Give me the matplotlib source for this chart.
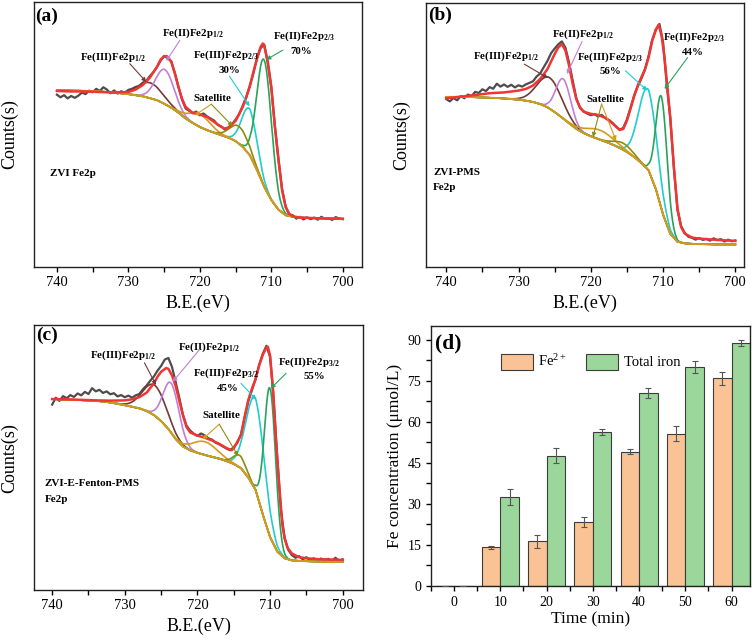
import numpy as np
import matplotlib.pyplot as plt
from matplotlib.ticker import MultipleLocator

plt.rcParams["font.family"] = ["Liberation Serif", "DejaVu Serif"]
plt.rcParams["mathtext.fontset"] = "custom"
plt.rcParams["mathtext.rm"] = "Liberation Serif"
plt.rcParams["mathtext.it"] = "Liberation Serif:italic"
plt.rcParams["mathtext.bf"] = "Liberation Serif:bold"

# ---------------- XPS Fe2p spectra (arbitrary counts) ----------------
E_RAW = np.linspace(740, 700, 81)   # raw spectrum, every 0.5 eV
E_BG = np.linspace(740, 700, 41)    # background, every 1 eV
E_FINE = np.linspace(740, 700, 801)

raw_a = [65.0, 64.0, 64.8, 63.6, 64.5, 63.8, 64.6, 65.8, 65.2, 66.5,
         65.9, 67.2, 66.4, 67.8, 66.9, 65.5, 66.6, 65.4, 66.3, 65.6,
         66.8, 67.2, 67.9, 68.2, 69.5, 70.2, 72.0, 73.5, 75.4, 77.8,
         79.6, 78.8, 77.6, 73.2, 68.0, 63.2, 59.8, 58.9, 58.0, 58.6,
         57.2, 57.9, 56.8, 56.0, 55.2, 53.6, 53.0, 51.8, 52.6, 53.8,
         55.6, 57.6, 60.8, 64.0, 68.5, 73.2, 78.9, 82.6, 83.9, 77.0,
         67.5, 53.0, 40.6, 29.5, 22.8, 19.6, 19.5, 18.2, 18.9, 17.9,
         18.7, 18.0, 18.6, 17.8, 18.9, 18.1, 18.4, 17.7, 18.8, 18.2,
         18.0]
raw_b = [63.5, 62.6, 63.9, 63.0, 64.6, 63.8, 65.2, 64.6, 66.2, 65.8,
         67.2, 66.5, 68.0, 67.4, 69.3, 68.2, 69.0, 68.1, 68.9, 67.9,
         68.7, 68.2, 69.0, 69.6, 70.2, 72.0, 73.2, 75.6, 77.9, 80.8,
         82.6, 84.2, 85.3, 82.9, 77.2, 70.5, 63.8, 60.2, 58.9, 58.0,
         57.4, 57.8, 56.9, 57.5, 56.3, 55.6, 54.5, 53.1, 51.9, 52.6,
         55.8, 60.1, 64.9, 68.3, 71.2, 74.6, 79.8, 85.9, 89.8, 91.9,
         85.2, 69.5, 56.2, 37.5, 21.5, 15.4, 12.9, 11.4, 11.0, 10.3,
         10.9, 10.2, 10.6, 9.9, 10.8, 10.1, 10.5, 9.6, 10.3, 9.7,
         10.0]
raw_c = [70.0, 72.6, 71.4, 73.2, 72.4, 73.6, 72.9, 74.2, 73.5, 74.8,
         74.0, 76.2, 75.0, 75.6, 74.4, 75.0, 73.9, 74.3, 73.1, 73.6,
         72.8, 73.4, 72.6, 73.5, 74.0, 75.8, 77.2, 79.0, 80.6, 82.8,
         84.6, 87.0, 87.6, 84.2, 78.5, 72.6, 66.2, 62.0, 60.2, 59.0,
         58.2, 59.1, 58.4, 57.3, 56.8, 55.6, 55.0, 54.2, 53.4, 52.8,
         53.9, 55.6, 58.8, 65.0, 71.2, 75.4, 79.6, 85.0, 89.2, 92.2,
         88.0, 72.0, 49.5, 30.0, 19.8, 15.2, 13.2, 12.2, 12.8, 11.6,
         12.4, 11.2, 12.0, 11.0, 11.9, 11.3, 11.8, 10.9, 12.2, 11.0,
         11.6]

bg_a = [66.7, 66.6, 66.5, 66.5, 66.4, 66.3, 66.2, 66.0, 65.8, 65.5,
        65.2, 64.8, 64.4, 63.7, 62.9, 61.6, 60.1, 58.2, 56.0, 54.3,
        52.8, 51.6, 50.6, 49.7, 48.8, 47.5, 45.3, 42.1, 36.5, 30.2,
        25.2, 21.6, 19.5, 18.9, 18.6, 18.5, 18.4, 18.3, 18.2, 18.2,
        18.1]
bg_b = [64.3, 64.3, 64.3, 64.3, 64.2, 64.1, 64.0, 63.9, 63.7, 63.5,
        63.3, 62.9, 62.4, 61.6, 60.4, 58.6, 56.5, 54.3, 52.2, 50.6,
        49.4, 48.4, 47.4, 46.3, 45.0, 43.5, 41.6, 39.3, 36.5, 29.5,
        19.8, 12.5, 9.5, 8.9, 8.7, 8.6, 8.6, 8.5, 8.5, 8.5,
        8.5]
bg_c = [72.1, 72.0, 71.9, 71.8, 71.7, 71.6, 71.4, 71.2, 70.8, 70.3,
        69.8, 69.2, 68.6, 67.6, 66.1, 63.8, 60.8, 57.0, 54.2, 52.7,
        51.8, 51.0, 50.3, 49.6, 48.7, 47.6, 46.0, 42.5, 37.8, 28.5,
        20.0, 14.5, 12.0, 11.2, 11.0, 10.9, 10.8, 10.8, 10.7, 10.7,
        10.7]

# fitted envelope (red line)
env_e_a = [740, 738, 736, 734, 732, 730, 729, 728, 727, 726, 725.5, 725, 724.6, 724,
           723.5, 723, 722.5, 722, 721, 720, 719, 718, 717, 716.5, 716, 715, 714,
           713.5, 713, 712.5, 712, 711.5, 711.2, 711, 710.5, 710, 709.5, 709, 708.5,
           708, 707.5, 707, 706, 704, 702, 700]
env_a = [66.4, 66.2, 66.2, 66.0, 65.8, 66.0, 66.9, 68.6, 71.4, 75.5, 78.2, 79.5, 79.5, 77.4,
         73.0, 67.9, 63.5, 60.4, 58.1, 57.5, 56.6, 54.7, 52.8, 52.2, 52.6, 55.1, 60.4,
         64.2, 68.2, 73.6, 78.6, 83.0, 84.3, 83.6, 77.4, 67.9, 52.8, 40.3, 28.9,
         22.6, 20.1, 19.1, 18.6, 18.4, 18.2, 18.2]
env_e_b = [740, 738, 736, 734, 732, 730, 729, 728, 727, 726, 725, 724.5, 724, 723.5,
           723, 722.5, 722, 721.5, 721, 720, 719, 718, 717, 716, 715.5, 715, 714,
           713.5, 713, 712.5, 712, 711.5, 711, 710.6, 710.2, 709.8, 709.4, 709, 708.5,
           708, 707.5, 707, 706, 705, 703, 700]
env_b = [63.8, 64.4, 65.0, 65.7, 66.0, 66.7, 67.3, 68.6, 71.1, 74.8, 80.5, 83.0, 84.3, 81.8,
         76.1, 69.2, 63.5, 60.4, 58.7, 57.9, 57.5, 56.4, 54.3, 51.8, 52.2, 55.3, 64.5,
         68.6, 71.7, 74.8, 79.2, 85.5, 89.6, 91.6, 87.4, 79.2, 67.9, 56.6, 37.7,
         22.0, 15.1, 12.6, 11.1, 10.7, 10.3, 9.8]
env_e_c = [740, 738, 736, 734, 732, 730, 729, 728, 727, 726, 725.5, 725, 724.3, 724,
           723.5, 723, 722.5, 722, 721.5, 721, 720, 719, 718, 717, 716, 715.3, 715,
           714.5, 714, 713.5, 713, 712.5, 712, 711.5, 711, 710.5, 710.3, 710, 709.6,
           709.2, 708.7, 708.3, 708, 707.6, 707, 706, 705, 703, 700]
env_c = [72.1, 72.0, 71.8, 71.6, 71.5, 71.6, 72.0, 72.8, 74.5, 78.0, 80.5, 82.4, 83.8, 83.5,
         81.0, 77.0, 71.5, 66.0, 61.5, 59.5, 58.3, 57.5, 56.5, 55.2, 53.6, 52.8, 53.5,
         56.0, 58.5, 65.5, 71.7, 76.0, 79.6, 84.8, 88.8, 91.6, 91.8, 88.5, 76.0,
         57.0, 38.0, 24.5, 19.5, 16.0, 13.8, 12.4, 12.0, 11.6, 11.4]

# fitted components: Fe(III)2p1/2, Fe(II)2p1/2, Fe(III)2p3/2, Fe(II)2p3/2, satellite, satellite
PEAK_COLORS = ["#723a36", "#c27fd6", "#22cccc", "#28a35a", "#d19c1d", "#8c8c12"]
center_a = [727.0, 724.9, 713.05, 711.0, 720.0, 714.5]
height_a = [5.8, 13.0, 17.4, 47.8, 4.8, 6.5]
fwhm_a = [4.0, 3.0, 2.5, 2.4, 3.5, 3.0]
center_b = [725.7, 723.8, 712.1, 710.2, 718.8, 715.5]
height_b = [11.7, 15.0, 30.5, 42.4, 3.6, 2.5]
fwhm_b = [4.0, 2.4, 3.0, 1.8, 4.5, 3.0]
center_c = [725.9, 723.6, 712.0, 710.0, 719.0, 714.2]
height_c = [11.5, 18.7, 34.5, 56.0, 5.0, 4.5]
fwhm_c = [3.8, 2.6, 3.0, 1.8, 4.0, 2.0]

RAW_COLOR = "#4d4d4d"
ENV_COLOR = "#f03535"
BG_COLOR = "#d19c1d"

# ---------------- (d) iron release ----------------
time_min = [0, 10, 20, 30, 40, 50, 60]
fe2 = [0, 14.1, 16.3, 23.4, 49.0, 55.7, 76.0]
fe2_err = [0, 0.6, 2.5, 2.0, 0.9, 2.7, 2.4]
fe_total = [0, 32.4, 47.7, 56.4, 70.5, 80.0, 89.0]
fe_total_err = [0, 2.9, 2.9, 1.1, 1.8, 2.2, 1.1]


def style_axes(ax):
    for s in ax.spines.values():
        s.set_linewidth(1.0)
        s.set_color("#222222")


def draw_xps(ax, raw, bg, env_e, env, centers, heights, widths, xlim):
    bg = np.asarray(bg)
    bg_f = np.interp(E_FINE[::-1], E_BG[::-1], bg[::-1])[::-1]
    ax.plot(E_RAW, raw, color=RAW_COLOR, lw=1.6)
    for c, h, w, col in zip(centers, heights, widths, PEAK_COLORS):
        comp = bg_f + h * np.exp(-4 * np.log(2) * (E_FINE - c) ** 2 / w ** 2)
        ax.plot(E_FINE, comp, color=col, lw=1.2)
    ax.plot(E_BG, bg, color=BG_COLOR, lw=1.4)
    ax.plot(env_e, env, color=ENV_COLOR, lw=1.8)

    ax.set_xlim(*xlim)
    ax.set_ylim(0, 100)
    ax.set_yticks([])
    ax.xaxis.set_major_locator(MultipleLocator(10))
    ax.xaxis.set_minor_locator(MultipleLocator(5))
    ax.tick_params(axis="x", which="both", direction="out", length=3.5, width=1.0,
                   labelsize=10.5, pad=3)
    ax.set_xlabel("B.E.(eV)", fontsize=13, labelpad=4)
    ax.set_ylabel("Counts(s)", fontsize=13, labelpad=11)
    style_axes(ax)


def note(ax, text, xy, size=7.8, ha="center"):
    ax.text(xy[0], xy[1], text, fontsize=size, fontweight="bold", ha=ha, va="center")


def arrow(ax, start, end, color):
    ax.annotate("", xy=end, xytext=start,
                arrowprops=dict(arrowstyle="-|>", color=color, lw=0.8,
                                mutation_scale=6, shrinkA=0, shrinkB=0))


fig = plt.figure(figsize=(7.56, 6.4), dpi=100)
ax_a = fig.add_axes([0.045, 0.583, 0.434, 0.414])
ax_b = fig.add_axes([0.5635, 0.583, 0.4206, 0.413])
ax_c = fig.add_axes([0.045, 0.078, 0.4352, 0.414])
ax_d = fig.add_axes([0.5701, 0.0844, 0.422, 0.406])

brown, violet, cyan, green, gold, olive = PEAK_COLORS

# ---- (a) ----
draw_xps(ax_a, raw_a, bg_a, env_e_a, env_a, center_a, height_a, fwhm_a, (743.2, 697.3))
ax_a.text(743.0, 94.6, "(a)", fontsize=14, fontweight="bold", va="center")
note(ax_a, r"Fe(III)Fe2p$_{\mathbf{1/2}}$", (732.1, 79.2))
arrow(ax_a, (729.8, 76.7), (727.5, 69.8), brown)
note(ax_a, r"Fe(II)Fe2p$_{\mathbf{1/2}}$", (721.0, 88.1))
arrow(ax_a, (722.8, 85.5), (724.7, 77.7), violet)
note(ax_a, r"Fe(III)Fe2p$_{\mathbf{2/3}}$", (716.3, 79.9))
note(ax_a, "30%", (715.9, 74.2))
arrow(ax_a, (715.85, 71.9), (713.05, 60.6), cyan)
note(ax_a, r"Fe(II)Fe2p$_{\mathbf{2/3}}$", (705.5, 87.0))
note(ax_a, "70%", (705.8, 81.1))
arrow(ax_a, (708.4, 81.8), (710.7, 78.2), green)
note(ax_a, "Satellite", (718.2, 63.5))
arrow(ax_a, (718.4, 61.4), (720.7, 57.2), gold)
arrow(ax_a, (718.4, 61.4), (715.4, 53.1), olive)
note(ax_a, "ZVI Fe2p", (740.9, 35.2), size=8, ha="left")

# ---- (b) ----
draw_xps(ax_b, raw_b, bg_b, env_e_b, env_b, center_b, height_b, fwhm_b, (742.8, 698.8))
ax_b.text(742.5, 95.0, "(b)", fontsize=14, fontweight="bold", va="center")
note(ax_b, r"Fe(III)Fe2p$_{\mathbf{1/2}}$", (731.8, 79.5))
arrow(ax_b, (729.2, 76.7), (725.9, 71.4), brown)
note(ax_b, r"Fe(II)Fe2p$_{\mathbf{1/2}}$", (721.1, 88.1))
arrow(ax_b, (721.2, 85.3), (723.3, 73.0), violet)
note(ax_b, r"Fe(III)Fe2p$_{\mathbf{2/3}}$", (717.3, 79.2))
note(ax_b, "56%", (717.3, 74.0))
arrow(ax_b, (715.2, 74.2), (712.2, 66.7), cyan)
note(ax_b, r"Fe(II)Fe2p$_{\mathbf{2/3}}$", (705.7, 86.8))
note(ax_b, "44%", (705.9, 81.1))
arrow(ax_b, (706.6, 79.2), (709.8, 67.3), green)
note(ax_b, "Satellite", (718.0, 63.5))
arrow(ax_b, (718.5, 61.6), (719.7, 49.1), olive)
arrow(ax_b, (718.5, 61.6), (716.5, 47.8), gold)
note(ax_b, "ZVI-PMS", (741.8, 35.8), size=8, ha="left")
note(ax_b, "Fe2p", (741.8, 30.2), size=8, ha="left")

# ---- (c) ----
draw_xps(ax_c, raw_c, bg_c, env_e_c, env_c, center_c, height_c, fwhm_c, (742.5, 697.2))
ax_c.text(742.2, 96.2, "(c)", fontsize=14, fontweight="bold", va="center")
note(ax_c, r"Fe(III)Fe2p$_{\mathbf{1/2}}$", (730.2, 88.7))
arrow(ax_c, (727.3, 85.8), (725.7, 77.4), brown)
note(ax_c, r"Fe(II)Fe2p$_{\mathbf{1/2}}$", (718.4, 91.8))
arrow(ax_c, (719.7, 90.8), (723.4, 78.6), violet)
note(ax_c, r"Fe(III)Fe2p$_{\mathbf{3/2}}$", (716.1, 81.8))
note(ax_c, "45%", (715.8, 76.1))
arrow(ax_c, (714.0, 78.0), (711.9, 71.9), cyan)
note(ax_c, r"Fe(II)Fe2p$_{\mathbf{3/2}}$", (704.6, 85.8))
note(ax_c, "55%", (703.9, 80.5))
arrow(ax_c, (707.8, 81.8), (709.9, 76.1), green)
note(ax_c, "Satellite", (716.7, 66.0))
arrow(ax_c, (717.0, 62.6), (719.3, 56.9), gold)
arrow(ax_c, (717.0, 62.6), (714.4, 50.6), olive)
note(ax_c, "ZVI-E-Fenton-PMS", (741.05, 40.3), size=8, ha="left")
note(ax_c, "Fe2p", (741.05, 34.0), size=8, ha="left")

# ---- (d) ----
t = np.array(time_min, dtype=float)
ax_d.bar(t - 2, fe2, width=4, color="#f9c396", edgecolor="#3c3c3c", linewidth=0.8,
         label="Fe$^{2+}$", zorder=2)
ax_d.bar(t + 2, fe_total, width=4, color="#9bd69b", edgecolor="#3c3c3c", linewidth=0.8,
         label="Total iron", zorder=2)
ax_d.errorbar(t - 2, fe2, yerr=fe2_err, fmt="none", ecolor="#555555", elinewidth=0.8,
              capsize=2.5, capthick=0.8, zorder=3)
ax_d.errorbar(t + 2, fe_total, yerr=fe_total_err, fmt="none", ecolor="#555555",
              elinewidth=0.8, capsize=2.5, capthick=0.8, zorder=3)
ax_d.set_xlim(-5, 64)
ax_d.set_ylim(0, 95)
ax_d.xaxis.set_major_locator(MultipleLocator(10))
ax_d.xaxis.set_minor_locator(MultipleLocator(5))
ax_d.yaxis.set_major_locator(MultipleLocator(15))
ax_d.yaxis.set_minor_locator(MultipleLocator(7.5))
ax_d.tick_params(which="both", direction="out", length=3.5, width=1.0, labelsize=10)
ax_d.set_xlabel("Time (min)", fontsize=12.5, labelpad=2)
ax_d.set_ylabel("Fe concentration (\u03bcmol/L)", fontsize=12.5, labelpad=3)
ax_d.text(-4.2, 88.5, "(d)", fontsize=15.5, fontweight="bold", va="center")
ax_d.legend(loc="upper center", bbox_to_anchor=(0.5, 0.945), ncol=2, frameon=False,
            fontsize=10.5, handlelength=2.2, handleheight=1.3, handletextpad=0.4,
            columnspacing=1.3)
style_axes(ax_d)

fig.savefig("out.png", dpi=100)
